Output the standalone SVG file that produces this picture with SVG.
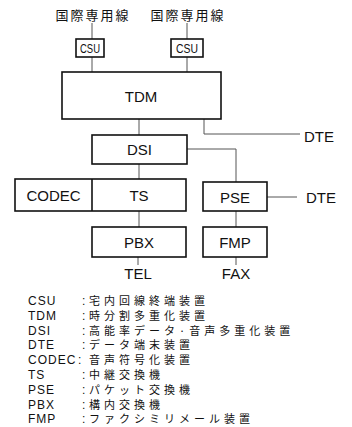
<svg xmlns="http://www.w3.org/2000/svg" width="352" height="427" viewBox="0 0 352 427">
<style>
.box{fill:#fff;stroke:#111;stroke-width:1.6}
.ln{fill:none;stroke:#555;stroke-width:1}
.t{font-family:"Liberation Sans",Arial,sans-serif;font-size:15px;fill:#111;text-anchor:middle}
.tl{font-family:"Liberation Sans",Arial,sans-serif;font-size:15px;fill:#111}
.jp{font-family:"Noto Sans CJK JP","Noto Sans CJK SC",sans-serif;font-size:13px;letter-spacing:2px;fill:#111;text-anchor:middle}
.csu{font-family:"Liberation Sans",Arial,sans-serif;font-size:12.5px;fill:#111;text-anchor:middle}
.la{font-family:"Liberation Sans",Arial,sans-serif;font-size:12px;letter-spacing:1px;fill:#111}
.lj{font-family:"Noto Sans CJK JP","Noto Sans CJK SC",sans-serif;font-size:11px;letter-spacing:4px;fill:#111}
</style>
<rect width="352" height="427" fill="#fff"/>
<g id="connectors">
<path class="ln" d="M92,23V39M187,23V39"/>
<path class="ln" d="M92,57V72M187,57V72"/>
<path class="ln" d="M139,119V135"/>
<path class="ln" d="M204,119V134H300"/>
<path class="ln" d="M187,149H236V182"/>
<path class="ln" d="M139,164V179"/>
<path class="ln" d="M267,197H297"/>
<path class="ln" d="M139,211V227"/>
<path class="ln" d="M236,211V227"/>
<path class="ln" d="M138,257V265"/>
<path class="ln" d="M236,257V265"/>
</g>
<g id="line1"><text class="jp" x="93" y="19.5">国際専用線</text></g>
<g id="line2"><text class="jp" x="188" y="19.5">国際専用線</text></g>
<g id="csu1"><rect class="box" x="76" y="39" width="28" height="18"/><text class="csu" x="90" y="53" textLength="20" lengthAdjust="spacingAndGlyphs">CSU</text></g>
<g id="csu2"><rect class="box" x="171" y="39" width="32" height="18"/><text class="csu" x="187" y="53" textLength="22" lengthAdjust="spacingAndGlyphs">CSU</text></g>
<g id="tdm"><rect class="box" x="62" y="72" width="159" height="47"/><text class="t" x="141" y="101.5">TDM</text></g>
<g id="dte1"><text class="tl" x="304" y="141.5">DTE</text></g>
<g id="dsi"><rect class="box" x="92" y="135" width="95" height="29"/><text class="t" x="139.5" y="155">DSI</text></g>
<g id="codec-ts"><rect class="box" x="15" y="179" width="171" height="32"/><path d="M92,179V211" stroke="#111" stroke-width="1.6"/><text class="t" x="53.5" y="200.5">CODEC</text><text class="t" x="139" y="200.5">TS</text></g>
<g id="pse"><rect class="box" x="203" y="182" width="64" height="29"/><text class="t" x="235" y="202.5">PSE</text></g>
<g id="dte2"><text class="tl" x="306" y="202.5">DTE</text></g>
<g id="pbx"><rect class="box" x="92" y="227" width="94" height="30"/><text class="t" x="139" y="247.5">PBX</text></g>
<g id="fmp"><rect class="box" x="203" y="227" width="64" height="30"/><text class="t" x="235" y="247.5">FMP</text></g>
<g id="tel"><text class="t" x="138" y="279">TEL</text></g>
<g id="fax"><text class="t" x="236" y="279">FAX</text></g>
<g id="legend">
<text class="la" x="28" y="305">CSU</text><text class="la" x="82" y="305">:</text><text class="lj" x="89" y="305">宅内回線終端装置</text>
<text class="la" x="28" y="319.8">TDM</text><text class="la" x="82" y="319.8">:</text><text class="lj" x="89" y="319.8">時分割多重化装置</text>
<text class="la" x="28" y="334.6">DSI</text><text class="la" x="82" y="334.6">:</text><text class="lj" x="89" y="334.6">高能率データ·音声多重化装置</text>
<text class="la" x="28" y="349.4">DTE</text><text class="la" x="82" y="349.4">:</text><text class="lj" x="89" y="349.4">データ端末装置</text>
<text class="la" x="28" y="364.2">CODEC</text><text class="la" x="78" y="364.2">:</text><text class="lj" x="89" y="364.2">音声符号化装置</text>
<text class="la" x="28" y="379">TS</text><text class="la" x="82" y="379">:</text><text class="lj" x="89" y="379">中継交換機</text>
<text class="la" x="28" y="393.8">PSE</text><text class="la" x="82" y="393.8">:</text><text class="lj" x="89" y="393.8">パケット交換機</text>
<text class="la" x="28" y="408.6">PBX</text><text class="la" x="82" y="408.6">:</text><text class="lj" x="89" y="408.6">構内交換機</text>
<text class="la" x="28" y="423.4">FMP</text><text class="la" x="82" y="423.4">:</text><text class="lj" x="89" y="423.4">ファクシミリメール装置</text>
</g>
</svg>
